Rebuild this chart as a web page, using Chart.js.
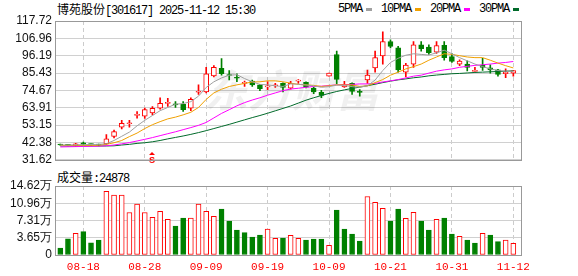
<!DOCTYPE html>
<html>
<head>
<meta charset="utf-8">
<script src="https://cdn.jsdelivr.net/npm/chart.js@4.4.0/dist/chart.umd.min.js"></script>
<style>
  body { margin: 0; background: #fff; width: 578px; height: 276px; position: relative; overflow: hidden; }
  .txt { position: absolute; font-family: 'Liberation Mono', monospace; font-size: 12px; letter-spacing: -1.2px; color: #000; white-space: nowrap; line-height: 12px; }
  .cjk { font-family: 'Noto Sans CJK SC', sans-serif; letter-spacing: 0; }
  #legend { display: flex; align-items: center; }
  #legend .sw { display: inline-block; width: 6px; height: 3px; margin: 0 9px 0 4px; }
  #priceBox { position: absolute; left: 0; top: 0; width: 578px; height: 170px; }
  #volBox { position: absolute; left: 0; top: 170px; width: 578px; height: 106px; }
</style>
</head>
<body>
<div class="txt" id="title" style="left:57px;top:3px"><span class="cjk">博苑股份</span>[301617] 2025-11-12 15:30</div>
<div class="txt" id="legend" style="left:338px;top:3px"></div>
<div class="txt" id="volLabel" style="left:57px;top:171px"><span class="cjk">成交量</span>:24878</div>
<div id="priceBox"><canvas id="priceChart" width="578" height="170"></canvas></div>
<div id="volBox"><canvas id="volChart" width="578" height="106"></canvas></div>
<script>
// trading days 2025-08-13 .. 2025-11-12
const dates = ['08-13','08-14','08-15','08-18','08-19','08-20','08-21','08-22','08-25','08-26','08-27','08-28','08-29',
  '09-01','09-02','09-03','09-04','09-05','09-08','09-09','09-10','09-11','09-12','09-15','09-16','09-17','09-18','09-19',
  '09-22','09-23','09-24','09-25','09-26','09-29','09-30',
  '10-09','10-10','10-13','10-14','10-15','10-16','10-17','10-20','10-21','10-22','10-23','10-24','10-27','10-28','10-29','10-30','10-31',
  '11-03','11-04','11-05','11-06','11-07','11-10','11-11','11-12'];
const tickDates = ['08-18','08-28','09-09','09-19','10-09','10-21','10-31','11-12'];
const signalDates = ['08-29'];

const opens  = [41.1,40.9,40.3,42.2,41.3,41.1,41.6,46.1,51.8,54.0,59.2,58.7,60.7,63.7,66.6,66.0,66.1,63.7,73.5,73.7,
  83.6,88.4,84.5,82.7,79.0,80.5,78.1,76.9,77.5,79.0,76.0,80.4,79.6,76.0,73.4,83.5,96.9,76.8,79.0,73.8,
  81.1,88.6,96.0,105.0,101.0,86.0,91.0,103.0,101.6,98.4,102.6,95.6,91.0,91.0,86.5,90.4,88.6,87.4,85.0,85.4];
const highs  = [41.4,41.2,41.9,42.6,41.6,41.4,47.2,50.1,56.1,56.1,61.5,63.7,64.7,70.1,69.7,67.7,67.7,70.1,78.1,89.0,
  90.0,94.4,87.0,85.0,80.5,81.1,78.4,80.1,79.0,79.4,80.3,81.4,80.0,76.6,74.7,85.4,99.0,80.3,79.4,75.2,
  87.2,99.0,111.0,106.0,102.0,91.4,105.0,105.0,103.0,105.0,105.0,97.5,93.6,93.0,89.0,94.6,90.6,87.8,88.0,87.0];
const lows   = [40.5,40.3,40.0,40.9,40.6,40.3,41.2,45.2,50.7,51.8,57.5,57.3,59.5,63.1,64.7,64.1,61.7,62.1,72.1,73.1,
  83.0,84.1,81.1,80.1,77.1,77.1,74.5,75.1,76.5,73.7,75.4,79.0,76.2,72.7,70.1,83.5,78.7,76.5,72.1,71.1,
  79.0,86.0,91.0,101.0,86.0,83.0,89.0,99.0,97.0,97.6,93.4,92.0,90.0,86.8,86.4,87.0,85.4,83.5,82.6,83.5];
const closes = [40.8,40.6,41.5,41.2,41.0,40.7,44.6,49.1,54.2,54.3,59.6,62.7,63.5,66.7,66.9,65.7,62.7,69.1,73.8,85.0,
  89.0,85.0,83.9,82.2,79.0,78.1,75.7,77.1,77.7,76.5,79.0,80.6,76.6,73.7,71.5,85.4,81.5,78.4,74.1,73.4,
  84.1,95.0,105.0,102.0,87.4,90.4,103.0,100.6,98.0,102.4,95.0,92.6,92.8,89.0,86.6,89.0,87.4,84.6,86.0,87.0];

const ma5  = [40.8,40.8,40.9,41.0,41.1,41.2,41.6,43.6,46.2,48.8,52.7,56.1,59.1,62.1,64.1,66.1,66.5,67.7,71.1,76.5,
  80.0,82.4,84.1,84.4,82.0,80.0,78.4,78.1,77.5,77.1,78.7,78.5,78.0,77.5,76.6,77.0,78.0,77.7,77.0,76.7,
  77.5,81.1,87.0,92.0,94.6,96.5,97.4,97.0,96.6,98.0,99.6,97.4,95.0,93.0,91.0,89.4,88.0,87.0,86.6,86.6];
const ma10 = [40.6,40.6,40.6,40.6,40.6,40.7,41.2,42.2,43.6,46.0,48.2,51.0,53.4,55.3,57.0,58.1,59.5,61.1,64.1,69.1,
  73.1,75.4,77.1,78.1,79.0,79.9,80.0,80.6,80.6,80.0,79.2,78.4,78.1,77.8,77.1,77.5,78.1,78.1,78.0,77.1,
  77.5,79.5,81.4,84.1,86.0,88.0,89.4,91.0,93.4,95.4,97.4,97.0,96.2,95.4,95.0,95.0,93.4,91.6,90.0,88.6];
const ma20 = [39.6,39.7,39.8,39.9,40.0,40.1,40.3,40.8,41.5,42.3,43.3,44.3,45.4,46.6,47.8,49.0,50.3,51.6,53.0,54.8,
  57.6,60.4,62.7,65.1,67.1,68.7,70.1,71.7,73.1,74.5,75.5,76.0,76.6,77.1,77.3,77.7,78.1,78.3,78.4,78.7,
  78.7,79.0,79.9,80.6,81.4,82.4,83.5,84.1,85.4,86.6,87.4,88.0,89.0,89.6,90.2,90.6,91.0,91.6,92.0,92.6];
const ma30 = [40.2,40.2,40.2,40.2,40.2,40.2,40.2,40.3,40.8,41.2,41.8,42.2,42.8,43.6,44.6,45.5,46.4,47.4,48.5,49.7,
  51.0,52.3,53.6,55.0,56.4,57.8,59.1,60.5,62.0,63.5,65.0,66.8,68.6,70.1,71.5,72.8,74.0,75.0,75.9,76.7,
  77.6,78.5,79.5,80.4,81.2,81.8,82.5,83.0,83.7,84.2,84.6,85.0,85.2,85.5,85.8,86.0,86.2,86.4,86.6,86.8];

// volume in 万
const volumes = [1.48,3.45,4.6,4.94,2.6,3.18,13.5,12.7,12.7,9.0,10.8,9.0,8.0,9.25,7.55,6.14,7.84,7.8,10.8,9.25,
  8.2,9.75,7.2,5.3,4.73,3.8,4.24,5.5,3.53,3.6,4.17,3.53,3.18,3.39,3.39,2.05,9.53,5.5,4.45,2.97,
  12.4,11.15,9.9,7.2,9.75,7.77,9.04,7.2,5.3,7.55,7.84,4.45,3.96,3.18,2.54,4.6,4.24,2.82,3.18,2.49];

const priceTicks = [31.62,42.38,53.15,63.91,74.67,85.43,96.19,106.96,117.72];
const volTicks = [0,3.65,7.31,10.96,14.62];

const maNames = ['5PMA','10PMA','20PMA','30PMA'];
const maColors = ['#a0a0a0','#f0a000','#ff00ff','#006a2a'];
const maSeries = [ma5, ma10, ma20, ma30];

const UP = '#ff0000', DOWN = '#008000';
const candleUp = closes.map((c, i) => c >= opens[i]);
const volUp = closes.map((c, i) => i === 0 ? c >= opens[0] : c >= closes[i - 1]);
const tickIdx = tickDates.map(d => dates.indexOf(d));

// legend
const legend = document.getElementById('legend');
maNames.forEach((n, k) => {
  const t = document.createElement('span');
  t.textContent = n;
  const s = document.createElement('span');
  s.className = 'sw';
  s.style.background = maColors[k];
  legend.appendChild(t);
  legend.appendChild(s);
});

const xMin = -0.69, xMax = 60.13;

function xScale(showLabels) {
  return {
    type: 'linear', min: xMin, max: xMax, offset: false,
    afterBuildTicks: s => { s.ticks = tickIdx.map(v => ({ value: v })); },
    afterFit: s => { s.height = showLabels ? 21 : 0; },
    grid: { color: '#cccccc', drawTicks: false, offset: false },
    border: { display: false, dash: [4, 3] },
    ticks: {
      display: showLabels, color: '#ff0000', padding: 5, maxRotation: 0, autoSkip: false,
      font: { family: 'Liberation Mono', size: 11 },
      callback: v => dates[v]
    }
  };
}

function yScale(lo, hi, ticks, fmt) {
  return {
    min: lo, max: hi,
    afterBuildTicks: s => { s.ticks = ticks.map(v => ({ value: v })); },
    afterFit: s => { s.width = 55; },
    grid: { color: '#d0d0d0', drawTicks: false },
    border: { display: false },
    ticks: { color: '#111', padding: 3, autoSkip: false, font: { family: 'Liberation Sans', size: 12 }, callback: fmt }
  };
}

const frame = {
  id: 'frame',
  afterDraw(chart) {
    const a = chart.chartArea, ctx = chart.ctx;
    ctx.save();
    ctx.strokeStyle = '#999999';
    ctx.lineWidth = 1;
    ctx.strokeRect(Math.round(a.left) + 0.5, Math.round(a.top) + 0.5, Math.round(a.right - a.left) - 1, Math.round(a.bottom - a.top));
    ctx.restore();
  }
};

const watermark = {
  id: 'watermark',
  beforeDatasetsDraw(chart) {
    const ctx = chart.ctx;
    ctx.save();
    ctx.font = 'italic bold 44px "Noto Sans CJK SC"';
    ctx.fillStyle = 'rgba(0,0,0,0.06)';
    ctx.textAlign = 'center';
    ctx.textBaseline = 'middle';
    ctx.fillText('东方财富', 292, 90);
    ctx.restore();
  }
};

const signals = {
  id: 'signals',
  afterDatasetsDraw(chart) {
    const ctx = chart.ctx, xs = chart.scales.x;
    ctx.save();
    ctx.fillStyle = UP;
    signalDates.forEach(d => {
      const x = Math.round(xs.getPixelForValue(dates.indexOf(d)));
      ctx.beginPath();
      ctx.moveTo(x, 152); ctx.lineTo(x - 3, 155); ctx.lineTo(x + 3, 155); ctx.closePath();
      ctx.fill();
      ctx.font = 'bold 9px "Liberation Sans"';
      ctx.textAlign = 'center';
      ctx.textBaseline = 'top';
      ctx.fillText('S', x, 156);
    });
    ctx.restore();
  }
};

const idx = dates.map((d, i) => i);

new Chart(document.getElementById('priceChart'), {
  type: 'bar',
  data: {
    datasets: [
      ...maSeries.map((s, k) => ({
        type: 'line', label: maNames[k], data: idx.map(i => ({ x: i, y: s[i] })),
        borderColor: maColors[k], borderWidth: 1, pointRadius: 0, tension: 0, order: 0
      })),
      {
        label: 'body', data: idx.map(i => ({ x: i, y: [Math.min(opens[i], closes[i]), Math.max(opens[i], closes[i])] })),
        backgroundColor: idx.map(i => candleUp[i] ? '#ffffff' : DOWN),
        borderColor: idx.map(i => candleUp[i] ? UP : DOWN),
        borderWidth: 1, borderSkipped: false, barThickness: 5, minBarLength: 1, grouped: false, order: 1
      },
      {
        label: 'wick', data: idx.map(i => ({ x: i, y: [lows[i], highs[i]] })),
        backgroundColor: idx.map(i => candleUp[i] ? UP : DOWN),
        barThickness: 1, grouped: false, order: 2
      }
    ]
  },
  options: {
    responsive: false, animation: false, events: [],
    layout: { padding: { left: 0, right: 56, top: 21, bottom: 5 } },
    plugins: { legend: { display: false }, tooltip: { enabled: false } },
    scales: {
      x: xScale(false),
      y: yScale(31.62, 117.72, priceTicks, v => v.toFixed(2))
    }
  },
  plugins: [watermark, signals, frame]
});

new Chart(document.getElementById('volChart'), {
  type: 'bar',
  data: {
    datasets: [{
      label: 'volume', data: idx.map(i => ({ x: i, y: volumes[i] })),
      backgroundColor: idx.map(i => volUp[i] ? '#ffffff' : DOWN),
      borderColor: idx.map(i => volUp[i] ? UP : DOWN),
      borderWidth: 1, borderSkipped: false, barThickness: 5, grouped: false
    }]
  },
  options: {
    responsive: false, animation: false, events: [],
    layout: { padding: { left: 0, right: 56, top: 16, bottom: 0 } },
    plugins: { legend: { display: false }, tooltip: { enabled: false } },
    scales: {
      x: xScale(true),
      y: yScale(0, 14.62, volTicks, v => v === 0 ? '0' : v.toFixed(2) + '万')
    }
  },
  plugins: [frame]
});
</script>
</body>
</html>
